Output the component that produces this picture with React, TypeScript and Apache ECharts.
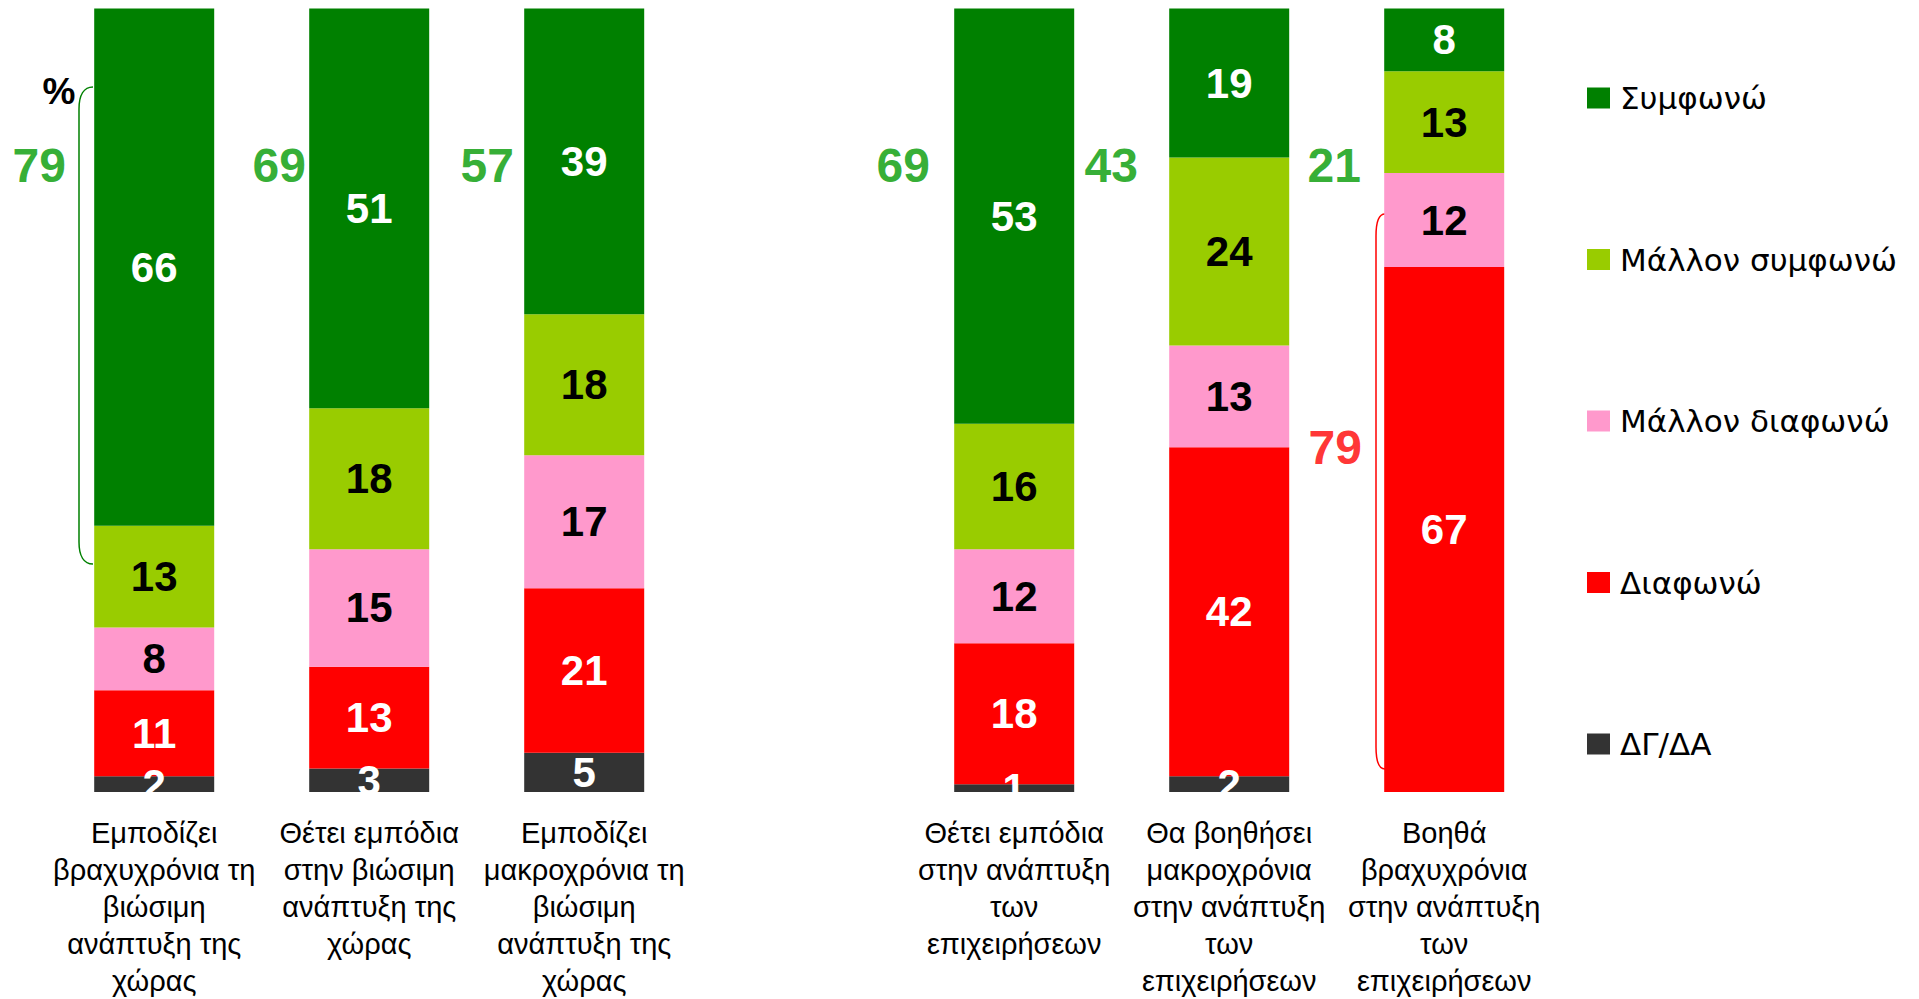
import React, { useEffect, useRef } from "react";
import * as echarts from "echarts";

// ---------- DATA ----------
const categories = [
  "Εμποδίζει\nβραχυχρόνια τη\nβιώσιμη\nανάπτυξη της\nχώρας",
  "Θέτει εμπόδια\nστην βιώσιμη\nανάπτυξη της\nχώρας",
  "Εμποδίζει\nμακροχρόνια τη\nβιώσιμη\nανάπτυξη της\nχώρας",
  "",
  "Θέτει εμπόδια\nστην ανάπτυξη\nτων\nεπιχειρήσεων",
  "Θα βοηθήσει\nμακροχρόνια\nστην ανάπτυξη\nτων\nεπιχειρήσεων",
  "Βοηθά\nβραχυχρόνια\nστην ανάπτυξη\nτων\nεπιχειρήσεων",
];
const seriesNames = ["Συμφωνώ", "Μάλλον συμφωνώ", "Μάλλον διαφωνώ", "Διαφωνώ", "ΔΓ/ΔΑ"];
const agree = [66, 51, 39, null, 53, 19, 8];
const ratherAgree = [13, 18, 18, null, 16, 24, 13];
const ratherDisagree = [8, 15, 17, null, 12, 13, 12];
const disagree = [11, 13, 21, null, 18, 42, 67];
const dkna = [2, 3, 5, null, 1, 2, 0];
// which bars get a "total agree" / "total disagree" annotation
const showAgreeTotal = [true, true, true, false, true, true, true];
const showDisagreeTotal = [false, false, false, false, false, false, true];

// ---------- STYLE ----------
const colors = ["#008000", "#99cc00", "#ff99cc", "#ff0000", "#333333"];
const labelColors = ["#ffffff", "#000000", "#000000", "#ffffff", "#ffffff"];
const NARROW = "'Liberation Sans Narrow', 'Arial Narrow', 'Liberation Sans', Arial, sans-serif";
const agreeTotalOffsets = [-115, -90, -97, 0, -111, -118, -110];
const disagreeTotalOffsets = [0, 0, 0, 0, 0, 0, -109];
const AGREE_LABEL_Y = 80;
const DISAGREE_LABEL_Y = 44;

export default function App() {
  const ref = useRef<HTMLDivElement>(null);

  useEffect(() => {
    if (!ref.current) return;
    echarts.graphic.registerShape(
      "bracketGreen",
      echarts.graphic.extendPath("M14 0 C5 0 0 8 0 22 L0 455 C0 469 5 477 14 477", {})
    );
    echarts.graphic.registerShape(
      "bracketRed",
      echarts.graphic.extendPath("M9 0 C3 0 0 8 0 22 L0 533 C0 547 3 555 9 555", {})
    );
    const chart = echarts.init(ref.current, undefined, { renderer: "svg" });

    const stackOrder = [4, 3, 2, 1, 0]; // bottom to top
    const dataByIndex = [agree, ratherAgree, ratherDisagree, disagree, dkna];

    const barSeries = stackOrder.map((si) => ({
      name: seriesNames[si],
      type: "bar",
      stack: "total",
      barWidth: 120,
      data: dataByIndex[si].map((v) => (v === null ? "-" : v)),
      itemStyle: { color: colors[si] },
      label: {
        show: true,
        position: "inside",
        color: labelColors[si],
        fontFamily: NARROW,
        fontWeight: "bold",
        fontSize: 42,
        formatter: (p: any) => (p.value ? String(p.value) : ""),
      },
    }));

    const agreeTotalData: any[] = [];
    const disagreeTotalData: any[] = [];
    categories.forEach((_, i) => {
      if (showAgreeTotal[i]) {
        agreeTotalData.push({
          value: [i, AGREE_LABEL_Y],
          total: (agree[i] || 0) + (ratherAgree[i] || 0),
          label: { offset: [agreeTotalOffsets[i], 0] },
        });
      }
      if (showDisagreeTotal[i]) {
        disagreeTotalData.push({
          value: [i, DISAGREE_LABEL_Y],
          total: (disagree[i] || 0) + (ratherDisagree[i] || 0),
          label: { offset: [disagreeTotalOffsets[i], 0] },
        });
      }
    });

    const totalSeries = (data: any[], color: string) => ({
      type: "scatter",
      data,
      symbolSize: 1,
      itemStyle: { color: "rgba(0,0,0,0)" },
      silent: true,
      z: 5,
      label: {
        show: true,
        position: "inside",
        color,
        fontFamily: NARROW,
        fontWeight: "bold",
        fontSize: 48,
        formatter: (p: any) => String(p.data.total),
      },
    });

    chart.setOption({
      animation: false,
      backgroundColor: "#ffffff",
      grid: { left: 46.7, right: 367.3, top: 8.6, bottom: 201, containLabel: false },
      xAxis: {
        type: "category",
        data: categories,
        axisLine: { show: false },
        axisTick: { show: false },
        axisLabel: {
          interval: 0,
          margin: 22,
          color: "#000000",
          fontFamily: NARROW,
          fontSize: 29,
          lineHeight: 37,
        },
      },
      yAxis: { type: "value", min: 0, max: 100, show: false },
      legend: {
        orient: "vertical",
        left: 1587,
        top: 82,
        padding: 0,
        itemWidth: 23,
        itemHeight: 21,
        itemGap: 129.5,
        icon: "rect",
        data: seriesNames,
        selectedMode: false,
        textStyle: {
          color: "#000000",
          fontFamily: "'DejaVu Sans', sans-serif",
          fontSize: 31,
          lineHeight: 32,
          padding: [0, 0, 0, 5],
        },
      },
      graphic: [
        {
          type: "text",
          x: 59,
          y: 91,
          style: {
            text: "%",
            fill: "#000",
            font: "bold 37px " + NARROW,
            align: "center",
            verticalAlign: "middle",
          },
        },
        {
          type: "bracketGreen",
          x: 79,
          y: 87,
          style: { stroke: "#008000", fill: "none", lineWidth: 1.5 },
        },
        {
          type: "bracketRed",
          x: 1376,
          y: 214,
          style: { stroke: "#ff0000", fill: "none", lineWidth: 1.5 },
        },
      ],
      series: [
        ...barSeries,
        totalSeries(agreeTotalData, "#009900"),
        totalSeries(disagreeTotalData, "#ff0000"),
      ],
    });

    return () => chart.dispose();
  }, []);

  return (
    <div
      ref={ref}
      style={{ position: "absolute", left: 0, top: 0, width: 1919, height: 999, background: "#fff" }}
    />
  );
}
